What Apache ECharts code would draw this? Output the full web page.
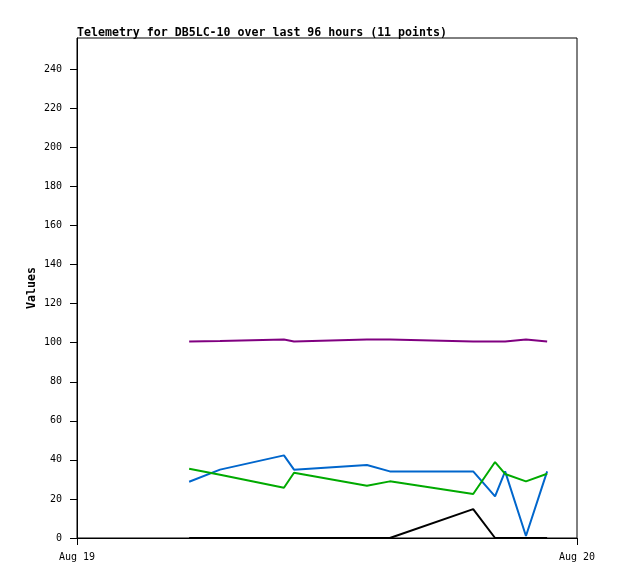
<!DOCTYPE html>
<html>
<head>
<meta charset="utf-8">
<script src="https://cdn.jsdelivr.net/npm/echarts@6/dist/echarts.min.js"></script>
<style>
  html, body { margin: 0; padding: 0; background: #fff; }
  #chart { width: 618px; height: 579px; }
</style>
</head>
<body>
<div id="chart"></div>
<script>
// sample times (UTC) and the four telemetry channels
const times = ['2024-08-19T05:23', '2024-08-19T06:52', '2024-08-19T09:56', '2024-08-19T10:25',
               '2024-08-19T13:55', '2024-08-19T15:01', '2024-08-19T19:01', '2024-08-19T20:04',
               '2024-08-19T20:33', '2024-08-19T21:33', '2024-08-19T22:34'];
const purpleVals = [100.6, 100.9, 101.6, 100.6, 101.6, 101.6, 100.6, 100.6, 100.6, 101.6, 100.6];
const blueVals   = [28.8, 35.0, 42.3, 35.0, 37.4, 34.1, 34.1, 21.3, 34.1, 1, 34.1];
const greenVals  = [35.5, 32.4, 25.7, 33.4, 26.8, 29.0, 22.5, 38.9, 32.8, 29.0, 32.9];
const blackVals  = [0, 0, 0, 0, 0, 0, 14.8, 0, 0, 0, 0];

const DAY = 24 * 3600 * 1000;
const xMin = Date.UTC(2024, 7, 19);
const xMax = Date.UTC(2024, 7, 20);
const months = ['Jan', 'Feb', 'Mar', 'Apr', 'May', 'Jun', 'Jul', 'Aug', 'Sep', 'Oct', 'Nov', 'Dec'];

const mono = "'DejaVu Sans Mono', monospace";

function toPairs(vals) {
    return times.map((t, i) => [Date.parse(t + ':00Z'), vals[i]]);
}

function mkLine(vals, color) {
    return {
        type: 'line',
        data: toPairs(vals),
        showSymbol: false,
        smooth: false,
        lineStyle: { color: color, width: 2 },
        itemStyle: { color: color }
    };
}

const chart = echarts.init(document.getElementById('chart'));
chart.setOption({
    animation: false,
    title: {
        text: 'Telemetry for DB5LC-10 over last 96 hours (11 points)',
        left: 72, top: 22,
        textStyle: { fontFamily: mono, fontSize: 11.6, fontWeight: 'bold', color: '#000' }
    },
    grid: { left: 77, right: 41, top: 38, bottom: 41, show: true, borderColor: '#000', borderWidth: 1 },
    xAxis: {
        type: 'value',
        min: xMin, max: xMax, interval: DAY,
        axisLine: { lineStyle: { color: '#000', width: 1 } },
        axisTick: { show: true, length: 7, lineStyle: { color: '#000' } },
        splitLine: { show: false },
        axisLabel: {
            margin: 14,
            color: '#000',
            fontFamily: mono, fontSize: 10,
            formatter: function (value) {
                let d = new Date(value);
                return months[d.getUTCMonth()] + ' ' + d.getUTCDate();
            }
        }
    },
    yAxis: {
        type: 'value',
        min: 0, max: 256, interval: 20,
        name: 'Values',
        nameLocation: 'middle',
        nameGap: 39,
        nameMoveOverlap: false,
        nameTextStyle: { fontFamily: mono, fontSize: 11.6, fontWeight: 'bold', color: '#000' },
        axisLine: { show: true, lineStyle: { color: '#000', width: 1 } },
        axisTick: { show: true, length: 7, lineStyle: { color: '#000' } },
        splitLine: { show: false },
        axisLabel: {
            margin: 15,
            color: '#000',
            fontFamily: mono, fontSize: 10,
            showMaxLabel: false
        }
    },
    series: [
        mkLine(purpleVals, '#800080'),
        mkLine(blueVals, '#0066cc'),
        mkLine(greenVals, '#00aa00'),
        mkLine(blackVals, '#000000')
    ]
});
</script>
</body>
</html>
